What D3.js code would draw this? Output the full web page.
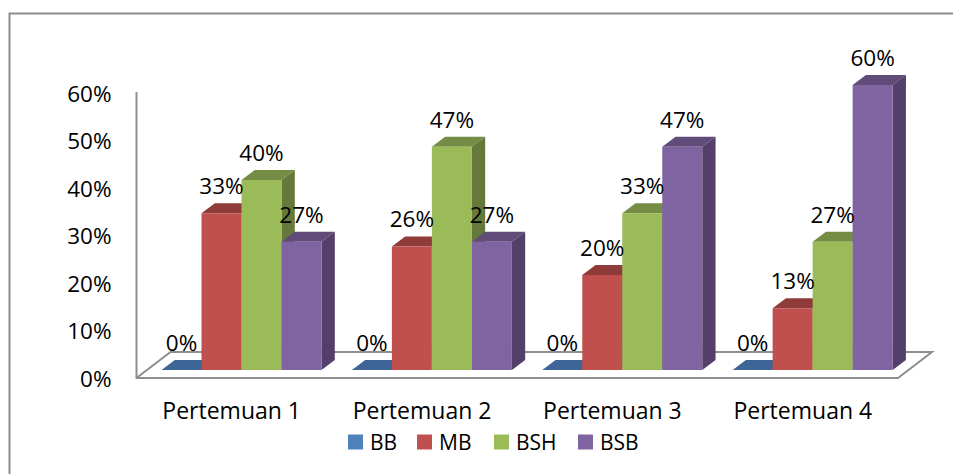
<!DOCTYPE html>
<html>
<head>
<meta charset="utf-8">
<script src="https://cdn.jsdelivr.net/npm/d3@7"></script>
<style>
    html, body { margin: 0; padding: 0; background: #fff; overflow: hidden; }
    text { font-family: "Open Sans", sans-serif; fill: #000; }
</style>
</head>
<body>
<div id="chart"></div>
<script>
// chart values
const categories = ["Pertemuan 1", "Pertemuan 2", "Pertemuan 3", "Pertemuan 4"];
const seriesNames = ["BB", "MB", "BSH", "BSB"];
const bbValues = [0, 0, 0, 0];
const mbValues = [33, 26, 20, 13];
const bshValues = [40, 47, 33, 27];
const bsbValues = [27, 27, 47, 60];
const yTicks = [0, 10, 20, 30, 40, 50, 60];
const seriesValues = [bbValues, mbValues, bshValues, bsbValues];

// face, top and side colours per series
const faceColors = ["#4f81bd", "#c0504d", "#9bbb59", "#8064a2"];
const topColors = ["#3d6596", "#8f3b39", "#748c43", "#604b79"];
const sideColors = ["#345580", "#7d3432", "#657a3a", "#533f69"];

const width = 953;
const height = 474;
const floorFront = 378; // front edge of the floor
const floorBack = 352; // back edge of the floor
const floorLeft = 136.5;
const floorRight = 898;
const barBase = 370; // front of the bars on the floor
const depthX = 13.3; // 3d offset of the bars
const depthY = -10;
const floorDepthX = 34; // 3d offset of the floor
const axisColor = "#8e8e8e";

const svg = d3.select("#chart")
    .append("svg")
    .attr("width", width)
    .attr("height", height)
    .style("display", "block");

// outer frame, runs off the right and bottom of the picture
svg.append("path")
    .attr("d", "M9.5,474V13.5H953")
    .attr("fill", "none")
    .attr("stroke", axisColor)
    .attr("stroke-width", 2);

// scales
const xScale = d3.scaleBand()
    .domain(categories)
    .range([floorLeft, floorRight]);

const seriesScale = d3.scaleBand()
    .domain(seriesNames)
    .range([25, 185]);

const yScale = d3.scaleLinear()
    .domain([0, 60])
    .range([barBase, 85]);

// the axis labels sit on the front of the wall, 8px lower than the bars
const yAxisScale = d3.scaleLinear()
    .domain([0, 60])
    .range([floorFront + 1, 94]);

// walls and floor
svg.append("path")
    .attr("d", `M${floorLeft},92V${floorFront}H${floorRight}L${floorRight + floorDepthX},${floorBack}H${floorLeft + floorDepthX}L${floorLeft},${floorFront}`)
    .attr("fill", "none")
    .attr("stroke", axisColor)
    .attr("stroke-width", 2);

// y axis labels
const yAxis = svg.append("g")
    .attr("transform", `translate(${floorLeft - 25},0)`)
    .call(d3.axisLeft(yAxisScale).tickValues(yTicks).tickSize(0).tickPadding(0).tickFormat(d => d + "%"));
yAxis.select(".domain").remove();
yAxis.selectAll("text").attr("font-size", 22.5).style("font-family", "Open Sans");

// x axis labels
const xAxis = svg.append("g")
    .attr("transform", `translate(0,${floorFront + 25})`)
    .call(d3.axisBottom(xScale).tickSize(0).tickPadding(0));
xAxis.select(".domain").remove();
xAxis.selectAll("text")
    .attr("font-size", 23)
    .style("font-family", "Open Sans");

// 3d bars, drawn left to right so each bar covers the side of the one before
categories.forEach((category, c) => {
    const group = svg.append("g").attr("class", "group");
    seriesNames.forEach((name, s) => {
        const value = seriesValues[s][c];
        const x0 = xScale(category) + seriesScale(name);
        const x1 = x0 + seriesScale.bandwidth();
        const yTop = yScale(value);

        // top face
        group.append("path")
            .attr("d", `M${x0},${yTop}L${x0 + depthX},${yTop + depthY}H${x1 + depthX}L${x1},${yTop}Z`)
            .attr("fill", topColors[s]);

        // side face
        group.append("path")
            .attr("d", `M${x1},${yTop}L${x1 + depthX},${yTop + depthY}V${barBase + depthY}L${x1},${barBase}Z`)
            .attr("fill", sideColors[s]);

        // front face
        group.append("rect")
            .attr("x", x0)
            .attr("y", yTop)
            .attr("width", x1 - x0)
            .attr("height", barBase - yTop)
            .attr("fill", faceColors[s]);
    });
});

// data labels go on top of all bars
categories.forEach(category => {
    seriesNames.forEach((name, s) => {
        const value = seriesValues[s][categories.indexOf(category)];
        svg.append("text")
            .attr("x", xScale(category) + seriesScale(name) + seriesScale.bandwidth() / 2)
            .attr("y", yScale(value) - 27)
            .attr("dy", "0.35em")
            .attr("text-anchor", "middle")
            .attr("font-size", 22.5)
            .text(value + "%");
    });
});

// legend
const legendX = [348, 417, 494, 578];
const legend = svg.append("g");
seriesNames.forEach((name, s) => {
    legend.append("rect")
        .attr("x", legendX[s])
        .attr("y", 434.5)
        .attr("width", 15)
        .attr("height", 15)
        .attr("fill", faceColors[s]);
    legend.append("text")
        .attr("x", legendX[s] + 22)
        .attr("y", 443)
        .attr("dy", "0.35em")
        .attr("font-size", 21)
        .text(name);
});
</script>
</body>
</html>
